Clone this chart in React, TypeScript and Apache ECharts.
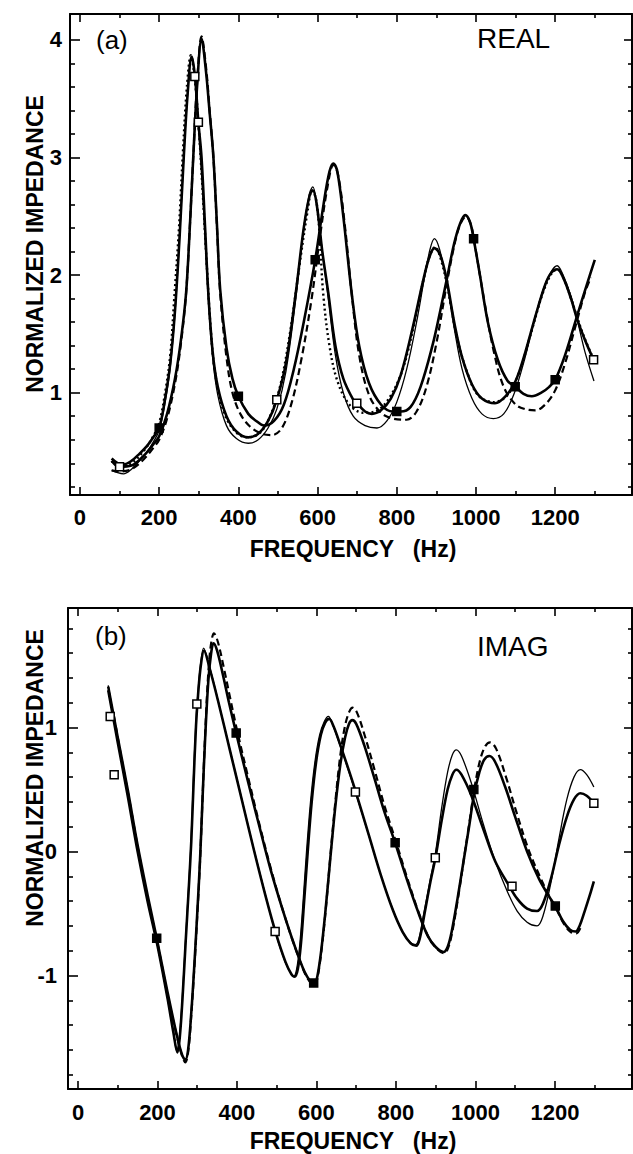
import React, { useEffect, useRef } from "react";
import * as echarts from "echarts";

// ---------- tick values ----------
const FREQ_TICKS = [0, 200, 400, 600, 800, 1000, 1200];
const FREQ_MINOR = [100, 300, 500, 700, 900, 1100, 1300];
const REAL_TICKS = [1, 2, 3, 4];
const REAL_MINOR = [0.2, 0.4, 0.6, 0.8, 1.2, 1.4, 1.6, 1.8, 2.2, 2.4, 2.6, 2.8, 3.2, 3.4, 3.6, 3.8];
const IMAG_TICKS = [-1, 0, 1];
const IMAG_MINOR = [-1.8, -1.6, -1.4, -1.2, -0.8, -0.6, -0.4, -0.2, 0.2, 0.4, 0.6, 0.8, 1.2, 1.4, 1.6, 1.8];

// ---------- (a) REAL : [frequency Hz, normalized impedance] ----------
const REAL_A_THIN = [[80,0.34],[95,0.32],[110,0.31],[130,0.35],[150,0.42],[170,0.5],[185,0.58],[200,0.68],[215,0.92],[228,1.22],[240,1.68],[252,2.35],[262,3.0],[272,3.55],[282,3.86],[292,3.62],[300,3.2],[308,2.8],[316,2.3],[324,1.8],[335,1.3],[348,0.98],[370,0.72],[395,0.61],[425,0.57],[450,0.6],[475,0.7],[497,0.86],[520,1.18],[545,1.8],[565,2.4],[580,2.7],[588,2.75],[597,2.62],[612,2.2],[627,1.8],[645,1.32],[665,1.0],[690,0.8],[720,0.72],[750,0.7],[775,0.76],[800,0.92],[825,1.2],[850,1.6],[870,1.98],[884,2.22],[895,2.31],[908,2.22],[926,1.94],[945,1.55],[965,1.2],[990,0.95],[1015,0.82],[1044,0.78],[1070,0.82],[1095,0.98],[1120,1.25],[1145,1.58],[1170,1.88],[1190,2.03],[1205,2.08],[1220,2.0],[1240,1.82],[1255,1.63],[1275,1.35],[1298,1.1]];
const REAL_A_THICK = [[80,0.44],[95,0.4],[110,0.39],[130,0.42],[150,0.48],[170,0.55],[185,0.62],[200,0.7],[215,0.95],[228,1.25],[240,1.7],[252,2.35],[262,3.0],[272,3.55],[282,3.86],[290,3.7],[299,3.3],[307,3.0],[316,2.4],[324,1.85],[335,1.35],[348,1.05],[370,0.8],[395,0.67],[425,0.62],[450,0.65],[475,0.76],[497,0.94],[520,1.25],[545,1.85],[565,2.4],[580,2.68],[588,2.72],[597,2.62],[612,2.2],[627,1.85],[645,1.4],[665,1.12],[690,0.94],[699,0.91],[720,0.84],[737,0.82],[760,0.85],[785,0.95],[810,1.15],[840,1.55],[867,1.96],[882,2.15],[895,2.23],[910,2.17],[926,1.96],[945,1.6],[965,1.3],[990,1.07],[1015,0.95],[1048,0.91],[1075,0.97],[1100,1.1],[1125,1.35],[1150,1.65],[1175,1.92],[1190,2.02],[1205,2.05],[1220,1.98],[1240,1.8],[1255,1.63],[1275,1.45],[1297,1.28]];
const REAL_A_DOT = [[80,0.42],[100,0.37],[130,0.4],[160,0.5],[185,0.63],[200,0.74],[215,1.0],[228,1.32],[238,1.8],[250,2.4],[260,3.05],[270,3.6],[280,3.87],[290,3.66],[300,3.25],[310,2.7],[320,2.1],[330,1.55],[342,1.15],[365,0.82],[395,0.66],[425,0.62],[455,0.66],[480,0.8],[505,1.05],[530,1.5],[555,2.1],[575,2.55],[586,2.72],[596,2.65],[605,2.35],[614,1.85],[630,1.4],[650,1.1],[680,0.9],[715,0.83],[745,0.84],[780,0.95],[815,1.2],[845,1.6],[870,2.0],[885,2.18],[897,2.24],[910,2.15],[928,1.9],[950,1.5],[975,1.2],[1005,0.98],[1045,0.92],[1080,0.98],[1110,1.18],[1140,1.52],[1170,1.86],[1192,2.02],[1206,2.05],[1222,1.97],[1245,1.75],[1270,1.5],[1295,1.3]];
const REAL_B_THICK = [[80,0.42],[100,0.37],[130,0.38],[160,0.46],[185,0.56],[200,0.63],[220,0.82],[240,1.12],[255,1.45],[268,1.85],[278,2.45],[286,3.0],[296,3.62],[307,4.01],[318,3.74],[327,3.4],[337,3.0],[346,2.42],[354,1.88],[370,1.38],[385,1.12],[400,0.97],[425,0.82],[445,0.76],[465,0.72],[490,0.76],[515,0.9],[540,1.2],[565,1.6],[594,2.13],[615,2.6],[630,2.88],[640,2.95],[650,2.88],[665,2.5],[686,1.85],[705,1.4],[730,1.08],[760,0.9],[790,0.84],[810,0.84],[835,0.88],[860,1.05],[890,1.4],[910,1.7],[926,1.96],[945,2.27],[960,2.44],[973,2.51],[985,2.45],[994,2.31],[1010,2.0],[1030,1.6],[1055,1.28],[1080,1.1],[1100,1.05],[1120,0.99],[1141,0.97],[1165,1.0],[1185,1.05],[1200,1.11],[1225,1.32],[1255,1.65],[1280,1.92],[1300,2.13]];
const REAL_B_DASH = [[80,0.34],[100,0.33],[130,0.35],[160,0.43],[185,0.53],[200,0.6],[220,0.78],[240,1.08],[255,1.42],[268,1.85],[278,2.45],[286,3.0],[296,3.65],[307,4.03],[318,3.78],[327,3.42],[337,3.0],[346,2.4],[354,1.85],[370,1.3],[385,1.0],[405,0.82],[430,0.71],[460,0.65],[485,0.64],[510,0.7],[535,0.92],[560,1.3],[585,1.8],[605,2.3],[625,2.75],[640,2.94],[652,2.85],[668,2.45],[686,1.85],[705,1.32],[730,0.98],[760,0.83],[790,0.78],[825,0.77],[850,0.84],[875,1.05],[900,1.42],[926,1.92],[945,2.25],[960,2.43],[975,2.5],[988,2.42],[1000,2.2],[1020,1.8],[1045,1.35],[1070,1.05],[1100,0.9],[1125,0.86],[1150,0.85],[1175,0.9],[1200,1.02],[1225,1.25],[1250,1.55],[1275,1.85],[1290,1.98]];
const REAL_OPEN = [[100,0.37],[290,3.69],[299,3.3],[497,0.94],[699,0.91],[1297,1.28]];
const REAL_FILLED = [[200,0.7],[400,0.97],[594,2.13],[800,0.84],[994,2.31],[1099,1.05],[1200,1.11]];

// ---------- (b) IMAG ----------
const IMAG_A_THIN = [[76,1.34],[100,0.9],[125,0.46],[150,0.02],[175,-0.38],[200,-0.75],[225,-1.18],[240,-1.45],[249,-1.61],[255,-1.5],[262,-1.2],[270,-0.75],[278,-0.3],[284,0.05],[290,0.55],[296,1.0],[301,1.25],[308,1.5],[316,1.64],[330,1.5],[350,1.25],[380,0.85],[410,0.45],[440,0.05],[470,-0.33],[496,-0.645],[520,-0.88],[535,-0.98],[542,-1.01],[550,-0.95],[558,-0.75],[566,-0.42],[575,0.0],[585,0.4],[596,0.72],[608,0.94],[620,1.05],[630,1.09],[640,1.03],[660,0.85],[680,0.66],[698,0.48],[730,0.15],[760,-0.17],[790,-0.45],[815,-0.64],[835,-0.73],[849,-0.75],[858,-0.7],[870,-0.5],[885,-0.25],[899,-0.02],[915,0.35],[930,0.64],[942,0.78],[952,0.82],[965,0.77],[990,0.55],[1020,0.22],[1050,-0.08],[1080,-0.32],[1105,-0.48],[1130,-0.57],[1155,-0.6],[1170,-0.52],[1190,-0.25],[1210,0.1],[1230,0.42],[1248,0.6],[1264,0.66],[1280,0.62],[1298,0.52]];
const IMAG_A_THICK = [[76,1.3],[100,0.88],[125,0.45],[150,0.0],[175,-0.4],[200,-0.76],[225,-1.18],[240,-1.46],[250,-1.62],[256,-1.5],[263,-1.18],[271,-0.72],[279,-0.28],[285,0.08],[291,0.57],[297,1.02],[302,1.26],[309,1.5],[317,1.62],[331,1.48],[352,1.22],[382,0.82],[412,0.42],[442,0.02],[472,-0.36],[498,-0.66],[522,-0.89],[537,-0.99],[545,-1.01],[553,-0.95],[561,-0.74],[569,-0.4],[578,0.0],[588,0.4],[599,0.72],[611,0.94],[622,1.04],[632,1.07],[643,1.01],[662,0.84],[682,0.65],[700,0.47],[732,0.13],[762,-0.19],[792,-0.47],[817,-0.65],[837,-0.74],[851,-0.76],[860,-0.7],[872,-0.5],[887,-0.24],[900,-0.04],[915,0.25],[930,0.5],[942,0.62],[952,0.66],[965,0.62],[990,0.45],[1020,0.18],[1050,-0.08],[1080,-0.25],[1105,-0.38],[1130,-0.46],[1155,-0.48],[1170,-0.42],[1190,-0.22],[1210,0.05],[1230,0.28],[1248,0.42],[1264,0.47],[1280,0.45],[1298,0.39]];
const IMAG_B_THICK = [[76,1.33],[100,0.92],[125,0.5],[150,0.05],[175,-0.35],[198,-0.7],[225,-1.13],[250,-1.5],[262,-1.64],[270,-1.68],[277,-1.6],[285,-1.3],[293,-0.9],[300,-0.5],[307,-0.07],[313,0.4],[320,0.92],[328,1.38],[335,1.6],[341,1.68],[350,1.62],[365,1.42],[380,1.2],[398,0.955],[425,0.6],[455,0.22],[485,-0.15],[515,-0.47],[545,-0.76],[570,-0.97],[585,-1.05],[593,-1.075],[600,-1.04],[610,-0.85],[622,-0.5],[635,-0.05],[648,0.38],[660,0.7],[672,0.92],[682,1.03],[690,1.06],[700,1.03],[720,0.86],[745,0.6],[770,0.33],[798,0.07],[825,-0.2],[855,-0.48],[880,-0.68],[900,-0.77],[920,-0.81],[930,-0.77],[940,-0.65],[955,-0.38],[970,-0.08],[985,0.22],[996,0.45],[1010,0.64],[1022,0.74],[1035,0.77],[1050,0.72],[1075,0.52],[1100,0.28],[1130,0.0],[1160,-0.22],[1185,-0.36],[1201,-0.44],[1220,-0.56],[1238,-0.63],[1252,-0.645],[1262,-0.6],[1275,-0.48],[1288,-0.35],[1298,-0.24]];
const IMAG_B_DASH = [[90,1.1],[110,0.74],[130,0.4],[150,0.04],[175,-0.38],[200,-0.74],[225,-1.15],[248,-1.48],[262,-1.65],[270,-1.7],[277,-1.62],[285,-1.32],[293,-0.92],[300,-0.52],[307,-0.08],[313,0.4],[320,0.95],[328,1.45],[335,1.68],[342,1.76],[352,1.69],[367,1.48],[382,1.25],[400,0.98],[428,0.6],[458,0.2],[488,-0.17],[518,-0.5],[548,-0.79],[572,-0.99],[586,-1.06],[594,-1.08],[601,-1.04],[611,-0.84],[623,-0.48],[636,0.0],[649,0.45],[661,0.8],[673,1.03],[683,1.13],[691,1.16],[702,1.12],[722,0.93],[747,0.65],[772,0.36],[800,0.08],[827,-0.2],[857,-0.49],[882,-0.69],[902,-0.78],[921,-0.82],[931,-0.78],[941,-0.66],[956,-0.38],[971,-0.06],[986,0.26],[998,0.52],[1012,0.74],[1025,0.85],[1037,0.88],[1052,0.83],[1077,0.6],[1102,0.33],[1132,0.03],[1162,-0.2],[1187,-0.37],[1203,-0.46],[1222,-0.58],[1240,-0.65],[1254,-0.66],[1265,-0.61]];
const IMAG_OPEN = [[81,1.09],[91,0.62],[299,1.19],[496,-0.645],[698,0.48],[899,-0.05],[1092,-0.28],[1298,0.39]];
const IMAG_FILLED = [[198,-0.7],[398,0.955],[593,-1.06],[798,0.07],[996,0.5],[1201,-0.44]];

const FONT = '"Liberation Sans", Arial, Helvetica, sans-serif';

function ax(o: any) {
  return {
    type: "value",
    gridIndex: o.grid,
    position: o.pos,
    min: o.min,
    max: o.max,
    axisLine: { show: !!o.line, onZero: false, lineStyle: { color: "#000", width: 2 } },
    axisTick: {
      show: true,
      inside: true,
      length: o.len,
      customValues: o.ticks,
      lineStyle: { color: "#000", width: 1.6 },
    },
    axisLabel: o.labels
      ? {
          show: true,
          customValues: o.ticks,
          margin: o.margin,
          fontSize: 22,
          fontWeight: "bold",
          color: "#000",
          fontFamily: FONT,
          formatter: (v: number) => String(v),
        }
      : { show: false },
    splitLine: { show: false },
    minorTick: { show: false },
  };
}

function lineS(data: number[][], g: number, width: number, type: any) {
  return {
    type: "line",
    data,
    xAxisIndex: g * 4,
    yAxisIndex: g * 4,
    showSymbol: false,
    symbol: "none",
    smooth: 0.35,
    lineStyle: { color: "#000", width, type },
    z: 3,
    silent: true,
  };
}

function markS(data: number[][], g: number, filled: boolean) {
  return {
    type: "scatter",
    data,
    xAxisIndex: g * 4,
    yAxisIndex: g * 4,
    symbol: "rect",
    symbolSize: 8,
    itemStyle: { color: filled ? "#000" : "#fff", borderColor: "#000", borderWidth: 1.5, opacity: 1 },
    z: 6,
    silent: true,
  };
}

export default function App() {
  const ref = useRef<HTMLDivElement>(null);
  useEffect(() => {
    if (!ref.current) return;
    const chart = echarts.init(ref.current, null, { renderer: "svg" });
    const XMIN = -25.2;
    const XMAX = 1394;
    const RMIN = 0.13;
    const RMAX = 4.221;
    const IMIN = -1.915;
    const IMAX = 1.964;
    const xAxes: any[] = [];
    const yAxes: any[] = [];
    [0, 1].forEach((g) => {
      xAxes.push(ax({ grid: g, pos: "bottom", min: XMIN, max: XMAX, line: true, len: 8, ticks: FREQ_TICKS, labels: true, margin: g === 0 ? 11 : 12 }));
      xAxes.push(ax({ grid: g, pos: "bottom", min: XMIN, max: XMAX, line: false, len: 4, ticks: FREQ_MINOR }));
      xAxes.push(ax({ grid: g, pos: "top", min: XMIN, max: XMAX, line: true, len: 8, ticks: FREQ_TICKS }));
      xAxes.push(ax({ grid: g, pos: "top", min: XMIN, max: XMAX, line: false, len: 4, ticks: FREQ_MINOR }));
      const ymin = g === 0 ? RMIN : IMIN;
      const ymax = g === 0 ? RMAX : IMAX;
      const maj = g === 0 ? REAL_TICKS : IMAG_TICKS;
      const mnr = g === 0 ? REAL_MINOR : IMAG_MINOR;
      yAxes.push(ax({ grid: g, pos: "left", min: ymin, max: ymax, line: true, len: 10, ticks: maj, labels: true, margin: g === 0 ? 8 : 11 }));
      yAxes.push(ax({ grid: g, pos: "left", min: ymin, max: ymax, line: false, len: 5, ticks: mnr }));
      yAxes.push(ax({ grid: g, pos: "right", min: ymin, max: ymax, line: true, len: 8, ticks: maj }));
      yAxes.push(ax({ grid: g, pos: "right", min: ymin, max: ymax, line: false, len: 4, ticks: mnr }));
    });

    const txt = (text: string, x: number, y: number, size: number, bold: boolean, align = "left", rot = 0) => ({
      type: "text",
      x,
      y,
      rotation: rot,
      silent: true,
      style: {
        text,
        fill: "#000",
        font: `${bold ? "bold " : ""}${size}px ${FONT}`,
        textAlign: align,
        textVerticalAlign: "middle",
      },
    });

    chart.setOption({
      animation: false,
      backgroundColor: "#fff",
      grid: [
        { left: 70, top: 14, width: 562, height: 481, outerBoundsMode: "none" },
        { left: 68, top: 608, width: 564, height: 481, outerBoundsMode: "none" },
      ],
      xAxis: xAxes,
      yAxis: yAxes,
      series: [
        lineS(REAL_A_THIN, 0, 1.3, "solid"),
        lineS(REAL_A_THICK, 0, 2.6, "solid"),
        lineS(REAL_A_DOT, 0, 2.4, [2, 3]),
        lineS(REAL_B_THICK, 0, 2.6, "solid"),
        lineS(REAL_B_DASH, 0, 2.2, [7, 4]),
        markS(REAL_OPEN, 0, false),
        markS(REAL_FILLED, 0, true),
        lineS(IMAG_A_THIN, 1, 1.3, "solid"),
        lineS(IMAG_A_THICK, 1, 2.6, "solid"),
        lineS(IMAG_B_THICK, 1, 2.6, "solid"),
        lineS(IMAG_B_DASH, 1, 2.2, [7, 4]),
        markS(IMAG_OPEN, 1, false),
        markS(IMAG_FILLED, 1, true),
      ],
      graphic: [
        txt("(a)", 96, 40, 26, false),
        txt("REAL", 477, 38, 28, false),
        txt("(b)", 95, 636, 26, false),
        txt("IMAG", 477, 646, 28, false),
        txt("NORMALIZED IMPEDANCE", 35, 244, 23, true, "center", Math.PI / 2),
        txt("NORMALIZED IMPEDANCE", 35, 778, 23, true, "center", Math.PI / 2),
        txt("FREQUENCY   (Hz)", 353, 549, 23, true, "center"),
        txt("FREQUENCY   (Hz)", 353, 1141, 23, true, "center"),
      ],
    });
    return () => chart.dispose();
  }, []);
  return (
    <div
      ref={ref}
      style={{ position: "fixed", left: 0, top: 0, width: 633, height: 1154, background: "#fff" }}
    />
  );
}
